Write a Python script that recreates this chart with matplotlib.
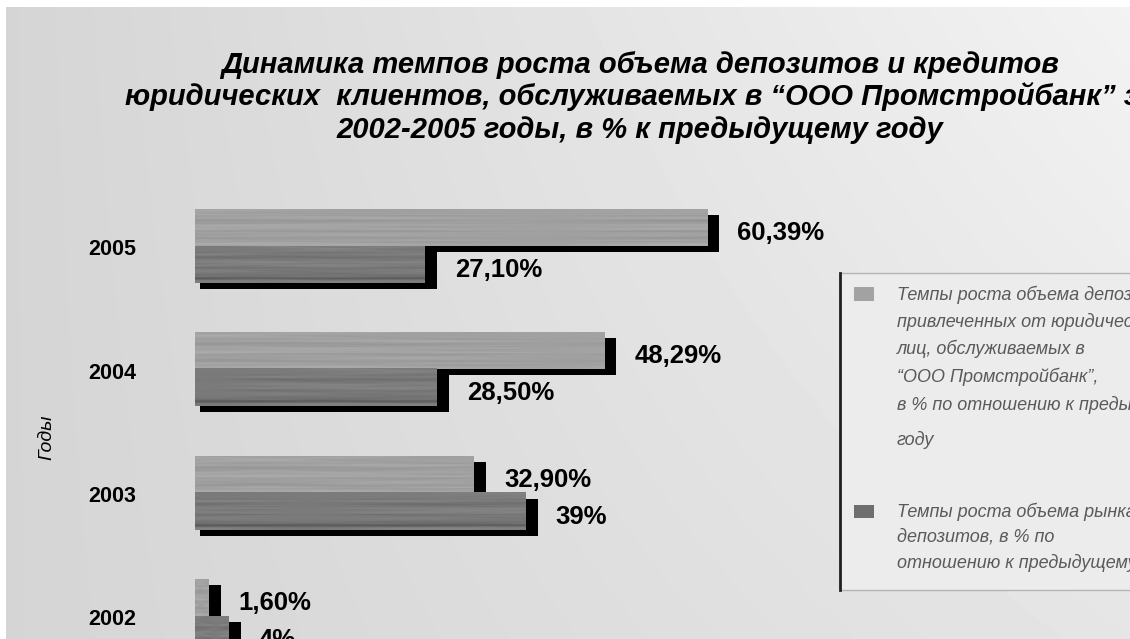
import numpy as np
import matplotlib
matplotlib.use("Agg")
import matplotlib.pyplot as plt
from matplotlib.patches import Rectangle

# data
years = ["2002", "2003", "2004", "2005"]
deposits = [1.60, 32.90, 48.29, 60.39]     # upper (light) bars
market = [4, 39, 28.50, 27.10]              # lower (dark) bars

title_lines = [
    "Динамика темпов роста объема депозитов и кредитов",
    "юридических  клиентов, обслуживаемых в “ООО Промстройбанк” за",
    "2002-2005 годы, в % к предыдущему году",
]
legend1 = [
    "Темпы роста объема депозитов,",
    "привлеченных от юридических",
    "лиц, обслуживаемых в",
    "“ООО Промстройбанк”,",
    "в % по отношению к предыдущему",
    "году",
]
legend2 = [
    "Темпы роста объема рынка",
    "депозитов, в % по",
    "отношению к предыдущему году",
]
ylabel = "Годы"

W, H = 1130, 639
fig = plt.figure(figsize=(W / 100, H / 100), dpi=100)
fig.patch.set_facecolor("white")


def fx(px):
    return px / W


def fy(py):
    return 1 - py / H


ax = fig.add_axes([0, 0, 1, 1])
ax.set_axis_off()

# x in percent, 0 at pixel 195, 8.48 px per percent
scale = 8.48
xlim = (-195 / scale, (W - 195) / scale)
# y in group units, group spacing 123.3 px, 2002 centred at pixel 616
spacing = 123.3
ylim = ((616 - H) / spacing, 616 / spacing)

# slide background: grey gradient, lighter towards the upper right
gx = np.linspace(0, 1, 200)[None, :]
gy = np.linspace(0, 1, 120)[:, None]
bg = 0.835 + 0.115 * gx * (1 - 0.45 * gy)
ax.imshow(bg, extent=[fx(6), 1, 0, fy(7)], transform=ax.transAxes,
          cmap="gray", vmin=0, vmax=1, aspect="auto", zorder=0,
          interpolation="bilinear")

bh = 37 / spacing          # bar height
sdx0 = 5 / scale           # shadow offsets
sdx1 = 12 / scale
sdy = 6 / spacing


def grain(cols, base, amp, phase, dark_bottom=False):
    # horizontal wood-like streaks that fade in and out along the bar
    rows = 60
    yy = np.linspace(0, 1, rows)[:, None]
    xx = np.linspace(0, 1, cols)[None, :]
    freqs = [2.3, 4.1, 6.7, 9.9, 14.3, 19.7, 26.1]
    amps = [0.35, 0.3, 0.28, 0.22, 0.18, 0.14, 0.1]
    t = np.zeros((rows, cols))
    for k, (f, a) in enumerate(zip(freqs, amps)):
        mod = 0.55 + 0.45 * np.sin(2 * np.pi * ((0.7 + 0.53 * k) * xx + phase * (k + 1) + 0.21 * k))
        t += a * np.sin(2 * np.pi * (f * yy + 0.03 * np.sin(2 * np.pi * (1.1 * xx + k))) + 1.7 * k + phase) * mod
    img = base + amp * t
    if dark_bottom:
        img -= 0.12 * np.exp(-((yy - 0.88) / 0.05) ** 2)
    return img


def fmt(v):
    s = f"{v:.0f}" if float(v).is_integer() else f"{v:.2f}"
    return s.replace(".", ",") + "%"


for i, (v1, v2) in enumerate(zip(deposits, market)):
    # upper bar spans [i, i + bh], lower bar spans [i - bh, i]
    for v, y0, base, amp, ph, dark in [(v1, i, 0.63, 0.07, 0.13 * i, False),
                                       (v2, i - bh, 0.48, 0.075, 0.41 + 0.17 * i, True)]:
        ax.add_patch(Rectangle((sdx0, y0 - sdy), v + sdx1 - sdx0, bh,
                               facecolor="black", edgecolor="none", zorder=1))
        cols = max(int(v * scale / 3), 4)
        ax.imshow(grain(cols, base, amp, ph, dark), extent=[0, v, y0, y0 + bh],
                  cmap="gray", vmin=0, vmax=1, aspect="auto", zorder=2,
                  interpolation="bilinear")
        ax.text(v + 30 / scale, y0 + bh / 2 - 0.045, fmt(v), ha="left", va="center",
                fontsize=18.5, fontweight="bold", family="Liberation Sans",
                color="black", zorder=3)
    ax.text(-9.8, i - 0.03, years[i], ha="center", va="center", fontsize=15.5,
            fontweight="bold", family="Liberation Sans", color="black", zorder=3)

ax.set_xlim(*xlim)
ax.set_ylim(*ylim)

# title
for py, line in zip([65, 97, 130], title_lines):
    fig.text(fx(640), fy(py), line, ha="center", va="center", fontsize=21,
             fontweight="bold", fontstyle="italic", family="Liberation Sans",
             color="black")

# axis caption
fig.text(fx(47), fy(437), ylabel, rotation=90, ha="center", va="center",
         fontsize=14, fontstyle="italic", family="Liberation Sans", color="black")

# legend box
ax.add_patch(Rectangle((fx(840), fy(590)), 1, fy(273) - fy(590), transform=ax.transAxes,
                       facecolor="#ececec", edgecolor="#b4b4b4", lw=1, zorder=4))
ax.plot([fx(840), fx(840)], [fy(273), fy(590)], transform=ax.transAxes,
        color="#202020", lw=2, zorder=5)
ax.add_patch(Rectangle((fx(854), fy(301)), fx(20), 14 / H, transform=ax.transAxes,
                       facecolor="#a2a2a2", edgecolor="none", zorder=5))
ax.add_patch(Rectangle((fx(854), fy(518)), fx(20), 13 / H, transform=ax.transAxes,
                       facecolor="#6e6e6e", edgecolor="none", zorder=5))
for py, line in zip([295, 322, 349, 377, 405, 440], legend1):
    fig.text(fx(897), fy(py), line, ha="left", va="center", fontsize=13,
             fontstyle="italic", family="Liberation Sans", color="#5a5a5a")
for py, line in zip([512, 537, 563], legend2):
    fig.text(fx(897), fy(py), line, ha="left", va="center", fontsize=13,
             fontstyle="italic", family="Liberation Sans", color="#5a5a5a")

fig.savefig("out.png", dpi=100)
